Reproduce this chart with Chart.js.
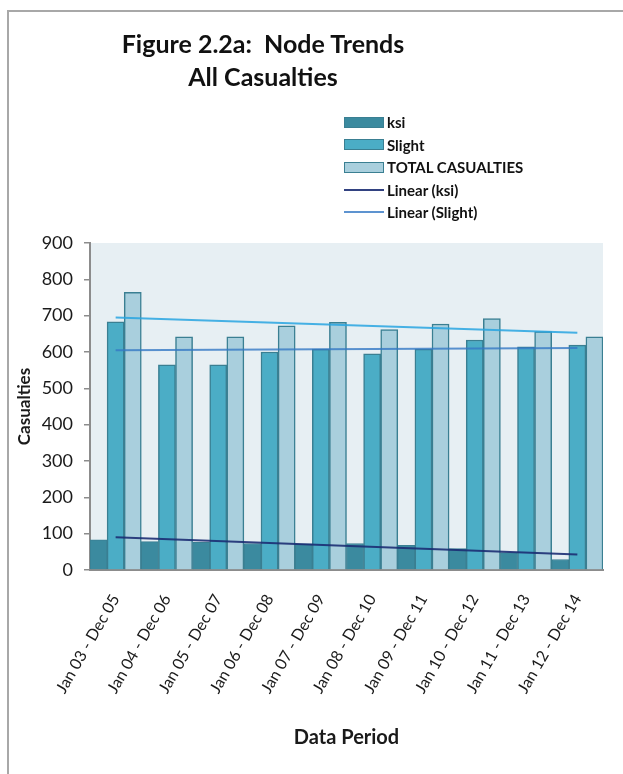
<!DOCTYPE html>
<html>
  <head>
    <title>Figure 2.2a: Node Trends - All Casualties</title>
    <script src="https://cdn.jsdelivr.net/npm/chart.js"></script>
    <style>
      body { margin: 0; background: #fff; font-family: Lato, "Open Sans", sans-serif; }
      #frame { position: absolute; left: 7px; top: 10px; width: 620px; height: 770px;
               border-top: 2px solid #a8a8a8; border-left: 2px solid #a8a8a8; }
      #myChart { position: absolute; left: 0; top: 0; }
      #title { position: absolute; left: 98px; top: 27px; width: 330px; text-align: center;
               font-weight: bold; font-size: 25px; line-height: 33px; color: #111; white-space: pre; }
      #legend { position: absolute; left: 344px; top: 111px; font-size: 15px; font-weight: bold; color: #111; }
      #legend ul { list-style: none; margin: 0; padding: 0; }
      #legend li { display: flex; align-items: center; height: 22.5px; }
      #legend .sw { width: 40px; box-sizing: border-box; margin-right: 3px; }
    </style>
  </head>

  <body>
    <div id="frame"></div>
    <canvas id="myChart" width="623" height="774"></canvas>
    <div id="title">Figure 2.2a:  Node Trends
All Casualties</div>
    <div id="legend"></div>

    <script>
      // data periods (x axis)
      var periods = [
        "Jan 03 - Dec 05", "Jan 04 - Dec 06", "Jan 05 - Dec 07", "Jan 06 - Dec 08", "Jan 07 - Dec 09",
        "Jan 08 - Dec 10", "Jan 09 - Dec 11", "Jan 10 - Dec 12", "Jan 11 - Dec 13", "Jan 12 - Dec 14",
      ];

      // casualties per period
      var ksi = [83, 78, 76, 73, 72, 73, 68, 59, 48, 29];
      var slight = [683, 565, 565, 600, 608, 595, 608, 633, 614, 619];
      var totalCasualties = [764, 642, 642, 672, 682, 662, 677, 692, 656, 642];

      // trend lines: only the end points (first and last period)
      var ksiTrend = [90, null, null, null, null, null, null, null, null, 43];
      var slightTrend = [605, null, null, null, null, null, null, null, null, 611];
      var totalTrend = [695, null, null, null, null, null, null, null, null, 653];

      var yTicks = { min: 0, max: 900, step: 100 };

      var plotBg = {
        id: "plotBg",
        beforeDraw: function (chart) {
          var a = chart.chartArea;
          var ctx = chart.ctx;
          ctx.save();
          ctx.fillStyle = "#e7eff3";
          ctx.fillRect(a.left, a.top, a.right - a.left, a.bottom - a.top);
          ctx.restore();
        },
      };

      var axisColor = "#8c8c8c";
      var textColor = "#1a1a1a";

      var ctx = document.getElementById("myChart").getContext("2d");
      var chart = new Chart(ctx, {
        type: "bar",
        data: {
          labels: periods,
          datasets: [
            {
              label: "ksi",
              data: ksi,
              backgroundColor: "#3b8a9f",
              borderColor: "#3a7f92",
              borderWidth: 1,
              order: 2,
            },
            {
              label: "Slight",
              data: slight,
              backgroundColor: "#4badc6",
              borderColor: "#3a7f92",
              borderWidth: 1.5,
              order: 2,
            },
            {
              label: "TOTAL CASUALTIES",
              data: totalCasualties,
              backgroundColor: "#a9cfdd",
              borderColor: "#3a7f92",
              borderWidth: 1.5,
              order: 2,
            },
            {
              type: "line",
              label: "Linear (ksi)",
              data: ksiTrend,
              borderColor: "rgba(28, 45, 115, 0.9)",
              borderWidth: 2,
              pointRadius: 0,
              spanGaps: true,
              order: 1,
            },
            {
              type: "line",
              label: "Linear (Slight)",
              data: slightTrend,
              borderColor: "rgba(52, 120, 196, 0.8)",
              borderWidth: 2,
              pointRadius: 0,
              spanGaps: true,
              order: 1,
            },
            {
              type: "line",
              label: "Linear (TOTAL CASUALTIES)",
              data: totalTrend,
              borderColor: "rgba(40, 165, 225, 0.85)",
              borderWidth: 2,
              pointRadius: 0,
              spanGaps: true,
              order: 1,
              hideInLegend: true,
            },
          ],
        },
        options: {
          responsive: false,
          animation: false,
          devicePixelRatio: 1,
          layout: { padding: { top: 243, left: 10, right: 20, bottom: 20 } },
          datasets: { bar: { barPercentage: 1, categoryPercentage: 1 } },
          plugins: {
            legend: { display: false },
            tooltip: { enabled: false },
          },
          scales: {
            x: {
              grid: { display: false },
              border: { display: true, color: axisColor, width: 2 },
              ticks: {
                color: textColor,
                font: { family: "Lato", size: 16 },
                minRotation: 60,
                maxRotation: 60,
                padding: 13,
              },
              title: {
                display: true,
                text: "Data Period",
                color: textColor,
                font: { family: "Lato", size: 20, weight: "bold" },
              },
              afterFit: function (scale) {
                scale.height = 184;
              },
            },
            y: {
              min: yTicks.min,
              max: yTicks.max,
              grid: { drawOnChartArea: false, tickLength: 6, color: axisColor, lineWidth: 1.5 },
              border: { display: true, color: axisColor, width: 2 },
              ticks: {
                stepSize: yTicks.step,
                color: textColor,
                font: { family: "Lato", size: 18 },
                padding: 11,
              },
              title: {
                display: true,
                text: "Casualties",
                color: textColor,
                font: { family: "Lato", size: 17, weight: "bold" },
              },
              afterFit: function (scale) {
                scale.width = 80;
              },
            },
          },
        },
        plugins: [plotBg],
      });

      // legend as a single column, built from the datasets
      var ul = document.createElement("ul");
      chart.data.datasets.forEach(function (ds) {
        if (ds.hideInLegend) return;
        var li = document.createElement("li");
        var sw = document.createElement("span");
        sw.className = "sw";
        if (ds.type === "line") {
          sw.style.height = "2px";
          sw.style.background = ds.borderColor;
        } else {
          sw.style.height = "11px";
          sw.style.background = ds.backgroundColor;
          sw.style.border = "1.5px solid " + ds.borderColor;
        }
        li.appendChild(sw);
        li.appendChild(document.createTextNode(ds.label));
        ul.appendChild(li);
      });
      document.getElementById("legend").appendChild(ul);
    </script>
  </body>
</html>
